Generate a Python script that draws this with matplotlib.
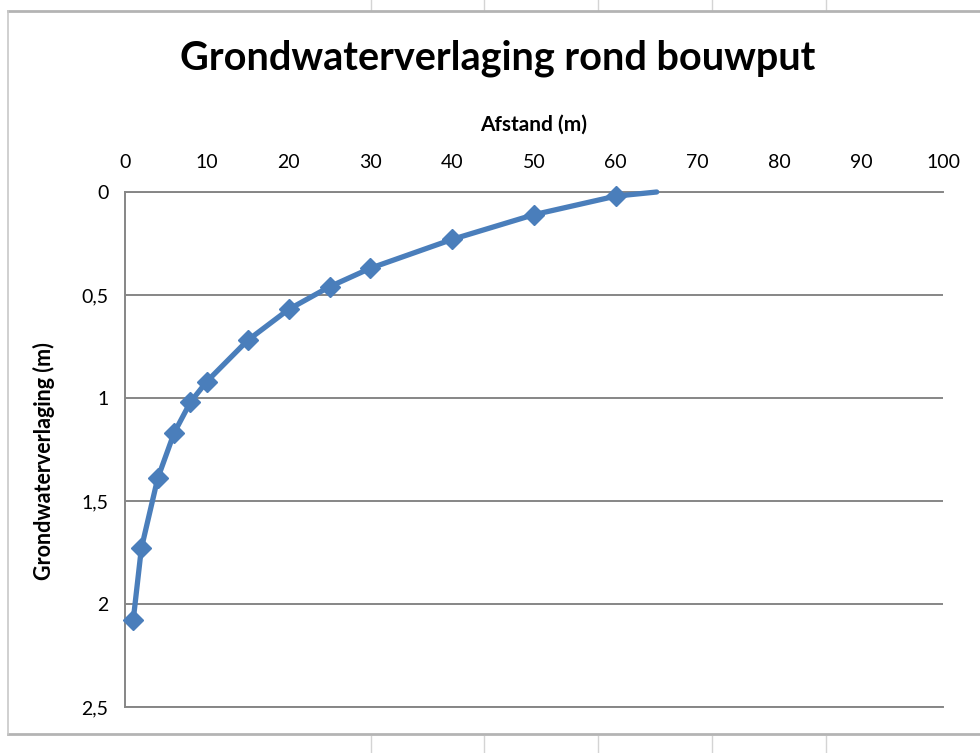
import matplotlib
matplotlib.use("Agg")
import matplotlib.pyplot as plt
from matplotlib.lines import Line2D
from matplotlib.ticker import FuncFormatter

plt.rcParams['font.family'] = ['Lato', 'DejaVu Sans']

# Afstand tot de bouwput (m) en bijbehorende grondwaterverlaging (m)
afstand = [1, 2, 4, 6, 8, 10, 15, 20, 25, 30, 40, 50, 60, 65]
verlaging = [2.08, 1.73, 1.39, 1.17, 1.02, 0.92, 0.72, 0.57, 0.46, 0.37, 0.23, 0.11, 0.02, 0.0]
x_ticks = [0, 10, 20, 30, 40, 50, 60, 70, 80, 90, 100]
y_ticks = [0, 0.5, 1, 1.5, 2, 2.5]

W, H = 980, 753
fig = plt.figure(figsize=(W / 100, H / 100), dpi=100)


def fx(px):
    return px / W


def fy(py):
    return 1 - py / H


# spreadsheet cell lines around the chart object
cell_color = "#d4d4d4"
for xv in [371, 484, 598, 712, 826]:
    fig.add_artist(Line2D([fx(xv), fx(xv)], [1, fy(10)], color=cell_color, lw=1))
    fig.add_artist(Line2D([fx(xv), fx(xv)], [0, fy(736)], color=cell_color, lw=1))
frame = "#b4b4b4"
fig.add_artist(Line2D([fx(8), 1], [fy(11), fy(11)], color=frame, lw=2))
fig.add_artist(Line2D([fx(8), 1], [fy(734), fy(734)], color=frame, lw=2))
fig.add_artist(Line2D([fx(8), fx(8)], [fy(11), fy(734)], color="#c8c8c8", lw=1.2))

left, right, top, bottom = 125, 943, 192, 707
ax = fig.add_axes([fx(left), fy(bottom), (right - left) / W, (bottom - top) / H])

ax.plot(afstand, verlaging, color="#4a7ebb", lw=3.8, marker="D", markersize=10,
        markevery=list(range(len(afstand) - 1)), solid_joinstyle="round",
        solid_capstyle="round", clip_on=False, zorder=3)

ax.set_xlim(0, 100)
ax.set_ylim(2.5, 0)
ax.set_xticks(x_ticks)
ax.set_yticks(y_ticks)
ax.xaxis.tick_top()
ax.xaxis.set_label_position("top")
ax.yaxis.set_major_formatter(FuncFormatter(lambda v, p: f"{v:g}".replace(".", ",")))
ax.tick_params(axis="both", length=0, labelsize=14, colors="#000000")
ax.tick_params(axis="x", pad=15)
ax.tick_params(axis="y", pad=12)

ax.grid(axis="y", color="#868686", lw=1.4)
ax.set_axisbelow(True)
ax.spines["right"].set_visible(False)
for s in ["left", "top", "bottom"]:
    ax.spines[s].set_color("#868686")
    ax.spines[s].set_linewidth(1.4)

ax.set_xlabel("Afstand (m)", fontsize=15, fontweight="bold")
ax.xaxis.set_label_coords(0.5, 1 + (192 - 131) / 515, transform=ax.transAxes)
ax.set_ylabel("Grondwaterverlaging (m)", fontsize=15.5, fontweight="bold")
ax.yaxis.set_label_coords((55 - 125) / 818, 1 - (461 - 192) / 515, transform=ax.transAxes)

fig.text(fx(498), fy(58), "Grondwaterverlaging rond bouwput", ha="center", va="center",
         fontsize=28.5, fontweight="bold")

fig.savefig("out.png", dpi=100)
